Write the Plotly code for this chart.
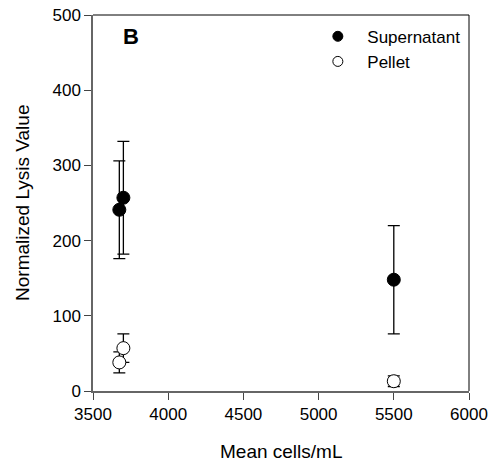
import plotly.graph_objects as go

# Supernatant and pellet lysis values vs. mean cell density
sup_cells = [3675, 3702, 5500]
sup_values = [241, 257, 148]
sup_err = [65, 75, 72]

pel_cells = [3675, 3702, 5500]
pel_values = [38, 57, 13]
pel_err = [14, 19, 7]

x_ticks = [3500, 4000, 4500, 5000, 5500, 6000]
y_ticks = [0, 100, 200, 300, 400, 500]

font_family = "Liberation Sans, Arial, sans-serif"
pad = "\u00a0\u00a0"

fig = go.Figure()

err_style = dict(type="data", thickness=1.3, width=6, color="black")

fig.add_trace(go.Scatter(
    x=sup_cells, y=sup_values, mode="markers", name="Supernatant",
    error_y=dict(array=sup_err, **err_style),
    marker=dict(symbol="circle", size=13, color="black",
                line=dict(color="black", width=1)),
    showlegend=False,
))
fig.add_trace(go.Scatter(
    x=pel_cells, y=pel_values, mode="markers", name="Pellet",
    error_y=dict(array=pel_err, **err_style),
    marker=dict(symbol="circle", size=13, color="white",
                line=dict(color="black", width=1)),
    showlegend=False,
))

# Legend entries with smaller key symbols
fig.add_trace(go.Scatter(x=[None], y=[None], mode="markers", name=pad + "Supernatant",
                         marker=dict(symbol="circle", size=10, color="black",
                                     line=dict(color="black", width=1))))
fig.add_trace(go.Scatter(x=[None], y=[None], mode="markers", name=pad + "Pellet",
                         marker=dict(symbol="circle", size=10, color="white",
                                     line=dict(color="black", width=1))))

axis_common = dict(
    showgrid=False, zeroline=False, showline=True, automargin=False,
    linecolor="#666666", linewidth=1.5,
    ticks="outside", ticklen=7, tickwidth=1.3, tickcolor="#444444",
    tickfont=dict(family=font_family, size=17, color="black"),
)

fig.update_xaxes(range=[3500, 6000], tickvals=x_ticks, **axis_common)
fig.update_yaxes(range=[0, 500], tickvals=y_ticks, **axis_common)

# Axis titles
fig.add_annotation(text="Mean cells/mL", xref="paper", yref="paper",
                   x=0.5, y=-0.162, showarrow=False,
                   xanchor="center", yanchor="middle",
                   font=dict(family=font_family, size=19, color="black"))
fig.add_annotation(text="Normalized Lysis Value", xref="paper", yref="paper",
                   x=-0.189, y=0.5, textangle=-90, showarrow=False,
                   xanchor="center", yanchor="middle",
                   font=dict(family=font_family, size=19, color="black"))

# Top and right frame lines
fig.add_shape(type="line", xref="paper", yref="paper", x0=0, x1=1, y0=1, y1=1,
              line=dict(color="black", width=1))
fig.add_shape(type="line", xref="paper", yref="paper", x0=1, x1=1, y0=0, y1=1,
              line=dict(color="black", width=1))

# Panel label
fig.add_annotation(text="<b>B</b>", xref="paper", yref="paper", x=0.074, y=0.942,
                   xanchor="left", yanchor="middle", showarrow=False,
                   font=dict(family=font_family, size=22, color="black"))

fig.update_layout(
    width=493, height=468,
    margin=dict(l=93, r=24, t=15, b=77),
    paper_bgcolor="white", plot_bgcolor="white",
    showlegend=True,
    legend=dict(x=0.598, y=0.99, xanchor="left", yanchor="top",
                bgcolor="rgba(0,0,0,0)", borderwidth=0,
                font=dict(family=font_family, size=17, color="black"),
                itemwidth=30, tracegroupgap=0),
    font=dict(family=font_family, color="black"),
)

fig.write_html("out.html")
